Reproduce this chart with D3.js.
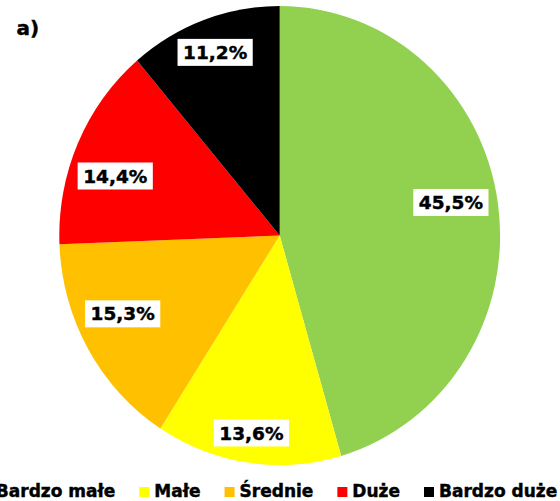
<!DOCTYPE html>
<html>
<head>
<meta charset="utf-8">
<script src="https://cdn.jsdelivr.net/npm/d3@7"></script>
<style>
  html, body { margin: 0; padding: 0; background: #fff; }
  svg { display: block; }
  text { font-family: "DejaVu Sans", Verdana, sans-serif; font-weight: bold; stroke: #000; stroke-width: 0.45px; }
</style>
</head>
<body>
<svg id="chart" width="560" height="501"></svg>
<script>
// Share of each size class (%)
const categories = ["Bardzo małe", "Małe", "Średnie", "Duże", "Bardzo duże"];
const values = [45.5, 13.6, 15.3, 14.4, 11.2];
const colors = ["#92D050", "#FFFF00", "#FFC000", "#FF0000", "#000000"];
const panelTitle = "a)";

// Label placement: radial fraction and angular nudge (degrees) per slice
const labelRadius = [0.79, 0.87, 0.79, 0.79, 0.85];
const labelNudge = [-2.4, 0.2, 4.1, -4.6, 0];

const cx = 279.7, cy = 235.5, rx = 220.4, ry = 229.5;
const svg = d3.select("#chart");

const fmt = v => d3.format(".1f")(v).replace(".", ",") + "%";

const pie = d3.pie().sort(null).value(d => d)(values);
const arc = d3.arc().innerRadius(0).outerRadius(rx);

const g = svg.append("g")
  .attr("transform", `translate(${cx},${cy}) scale(1,${ry / rx})`);
g.selectAll("path")
  .data(pie)
  .join("path")
  .attr("d", arc)
  .attr("fill", (d, i) => colors[i]);

// Value labels in white boxes
const lbl = svg.append("g");
pie.forEach((d, i) => {
  const a = (d.startAngle + d.endAngle) / 2 + labelNudge[i] * Math.PI / 180;
  const x = cx + labelRadius[i] * rx * Math.sin(a);
  const y = cy - labelRadius[i] * ry * Math.cos(a);
  const grp = lbl.append("g").attr("transform", `translate(${x},${y})`);
  const rect = grp.append("rect").attr("fill", "#fff");
  const t = grp.append("text")
    .attr("text-anchor", "middle")
    .attr("y", 6.6)
    .attr("font-size", 18.5)
    .attr("fill", "#000")
    .text(fmt(values[i]));
  const w = t.node().getComputedTextLength();
  rect.attr("x", -w / 2 - 5.5).attr("y", -13.5).attr("width", w + 11).attr("height", 27);
});

// Panel title
svg.append("text")
  .attr("x", 16.5).attr("y", 35)
  .attr("font-size", 20)
  .attr("fill", "#000")
  .text(panelTitle);

// Legend along the bottom
const leg = svg.append("g");
const items = categories.map((c, i) => {
  const it = leg.append("g");
  it.append("rect").attr("width", 10).attr("height", 10).attr("y", 487).attr("fill", colors[i]);
  const t = it.append("text").attr("x", 15).attr("y", 497).attr("font-size", 17).attr("fill", "#000").text(c);
  return { it, w: 15 + t.node().getComputedTextLength() };
});
const gap = 24;
const total = d3.sum(items, d => d.w) + gap * (items.length - 1);
let xpos = 269 - total / 2;
items.forEach(d => {
  d.it.attr("transform", `translate(${xpos},0)`);
  xpos += d.w + gap;
});
</script>
</body>
</html>
